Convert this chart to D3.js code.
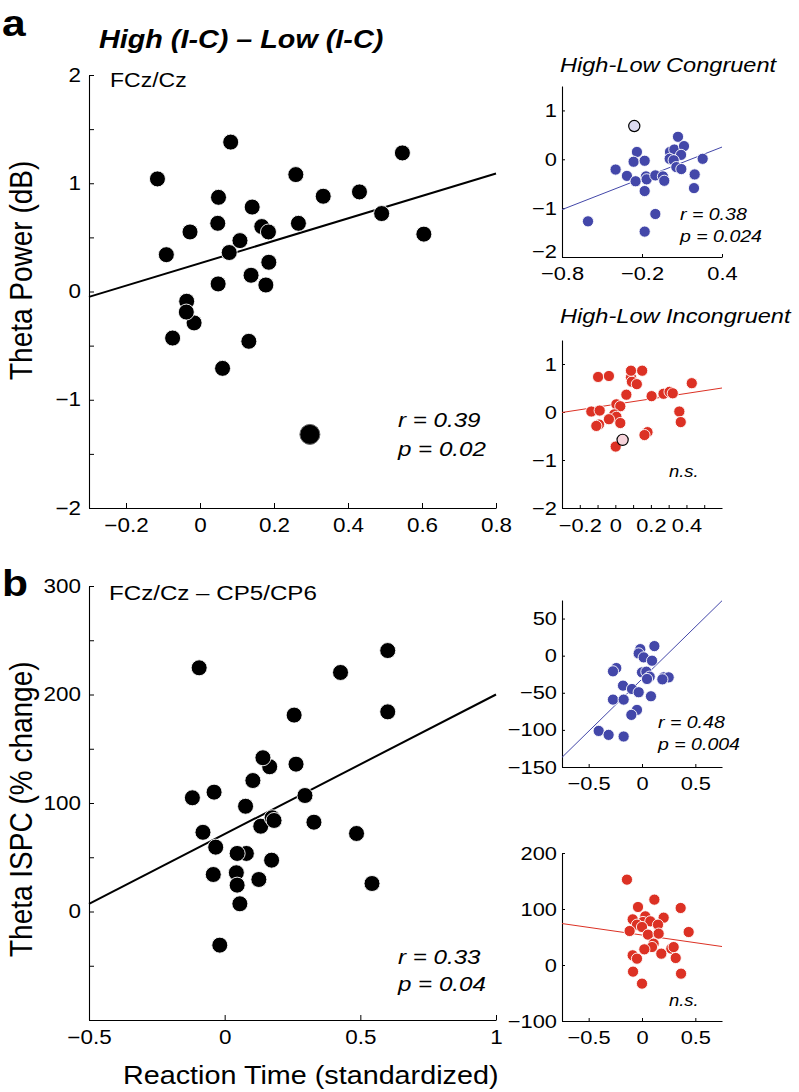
<!DOCTYPE html>
<html><head><meta charset="utf-8">
<script src="https://cdn.jsdelivr.net/npm/d3@7"></script>
<style>
html,body{margin:0;padding:0;background:#fff;}
svg text{font-family:"Liberation Sans",Arial,Helvetica,sans-serif;fill:#000;}
</style></head>
<body><svg id="chart" width="799" height="1092"></svg>
<script>
// ---------- data ----------
const powerPts = [[-0.115,1.04],[0.083,1.38],[0.547,1.28],[0.259,1.08],[0.333,0.88],[0.431,0.92],[0.491,0.72],[0.605,0.53],[0.050,0.87],[0.141,0.78],[0.048,0.63],[-0.027,0.55],[0.167,0.60],[0.185,0.55],[0.266,0.63],[0.108,0.47],[-0.091,0.34],[0.079,0.36],[0.186,0.27],[0.138,0.15],[0.049,0.07],[0.178,0.06],[-0.036,-0.09],[-0.016,-0.29],[-0.037,-0.19],[-0.074,-0.43],[0.132,-0.46],[0.061,-0.71]];
const powerOutlier = [[0.297,-1.32]];
const powerFit = [[-0.3,-0.05],[0.8,1.09]];

const ispcPts = [[-0.094,224.6],[0.427,220.3],[0.601,240.5],[0.601,184],[0.256,181],[0.166,133.4],[0.141,141.7],[0.263,135.8],[0.104,120.7],[0.296,106.9],[-0.039,110],[-0.119,104.8],[0.077,97],[-0.080,73],[0.133,78.6],[0.175,86.4],[0.182,83.9],[0.329,82.3],[0.486,71.9],[-0.033,59.3],[0.080,53.5],[0.046,53.5],[0.173,47.3],[-0.042,34.1],[0.043,35.7],[0.126,29.5],[0.046,24.3],[0.543,25.8],[0.056,7.1],[-0.018,-31]];
const ispcFit = [[-0.5,7],[1,200]];

const congPts = [[-0.238,0.15],[-0.263,-0.05],[-0.398,-0.21],[-0.313,-0.34],[-0.248,-0.45],[-0.18,-0.03],[-0.17,-0.35],[-0.165,-0.41],[-0.18,-0.65],[-0.1,-0.33],[-0.043,-0.35],[-0.033,-0.44],[-0.1,-1.12],[-0.18,-1.48],[-0.605,-1.27],[0.01,0.15],[0.0425,0.2],[0.07,0.46],[0.115,0.27],[0.093,0.09],[0.0075,0.01],[0.0375,-0.02],[0.0575,-0.16],[0.095,-0.2],[0.195,-0.31],[0.19,-0.59],[0.255,0.01]];
const congHighlight = [[-0.258,0.68]];
const congFit = [[-0.8,-1.03],[0.4,0.25]];

const incPts = [[-0.097,0.73],[-0.036,0.75],[0.088,0.72],[0.093,0.63],[0.121,0.58],[0.088,0.86],[0.151,0.86],[0.062,0.36],[0.43,0.6],[0.271,0.38],[0.305,0.42],[0.323,0.39],[0.204,0.33],[-0.135,0.01],[-0.088,0.03],[0.006,0.16],[0.028,0.12],[-0.006,-0.05],[0.006,-0.1],[-0.036,-0.15],[0.028,-0.23],[-0.092,-0.26],[-0.107,-0.29],[0.36,0.01],[0.368,-0.21],[0.181,-0.42],[0.164,-0.48],[0.002,-0.72]];
const incHighlight = [[0.041,-0.58]];
const incFit = [[-0.3,-0.01],[0.6,0.5]];

const ispcCongPts = [[-0.016,8.8],[-0.031,3],[0.016,-2.3],[0.116,12.9],[0.094,-6.8],[-0.241,-16.7],[-0.272,-21.1],[0,-22.5],[0.041,-21.6],[0.072,-28.3],[0.047,-31.4],[0.203,-29.2],[0.25,-29.2],[0.191,-31.9],[-0.178,-40.4],[-0.094,-44.9],[-0.031,-49.3],[0.084,-54.7],[-0.272,-59.2],[-0.172,-59.2],[-0.047,-73.1],[-0.1,-79.8],[-0.406,-101.4],[-0.313,-106.7],[-0.172,-108.9]];
const ispcCongFit = [[-0.75,-137],[0.75,74]];

const ispcIncPts = [[-0.141,152.4],[0.116,116.7],[-0.0375,103.6],[0.3625,101.8],[-0.0875,81.5],[0.203,84.5],[0.031,86.9],[0.009,76.8],[0.078,78],[0.15,72],[-0.047,72],[0,67.9],[-0.116,60.7],[0.4375,58.9],[0.056,54.2],[0.156,56],[0.109,38.1],[0.094,32.1],[0.022,28],[0.275,29.2],[0.297,32],[0.181,20.2],[-0.0875,17.3],[-0.047,11.3],[0.316,12.5],[-0.084,-11.9],[0.366,-15.5],[0,-33.3]];
const ispcIncFit = [[-0.75,74],[0.75,33]];

// tick values
const powerYTicks = [-2,-1.5,-1,-0.5,0,0.5,1,1.5,2];
const powerXTicks = [-0.2,0,0.2,0.4,0.6,0.8];
const ispcYTicks = [-100,-50,0,50,100,150,200,250,300];
const ispcYLabels = [0,100,200,300];
const ispcXTicks = [-0.5,0,0.5,1];
const congYTicks = [-2,-1,0,1];
const congXTicks = [-0.8,-0.2,0.4];
const incYTicks = [-2,-1,0,1];
const incXTicks = [-0.2,-0.1,0,0.1,0.2,0.3,0.4,0.5];
const incXLabels = [-0.2,0,0.2,0.4];
const smallBTopYTicks = [-150,-100,-50,0,50];
const smallBXTicks = [-0.5,0,0.5];
const smallBBotYTicks = [-100,0,100,200];

// ---------- drawing ----------
const SX = 1.15;
const BLUE = "#4347a9", RED = "#dc3124";
const svg = d3.select("#chart");
const minus = s => String(s).replace("-", "\u2212");

function txt(x, y, str, o = {}) {
  const g = svg.append("g").attr("transform",
    o.rotate ? `translate(${x},${y}) rotate(-90) scale(1,${SX})` : `translate(${x},${y}) scale(${SX},1)`);
  g.append("text").text(str)
    .attr("font-size", o.size || 18)
    .attr("font-weight", o.weight || "normal")
    .attr("font-style", o.style || "normal")
    .attr("text-anchor", o.anchor || "start");
}

function panel(cfg) {
  const x = d3.scaleLinear().domain(cfg.xd).range(cfg.xr);
  const y = d3.scaleLinear().domain(cfg.yd).range(cfg.yr);
  const g = svg.append("g");
  const fmtX = cfg.xfmt || (d => minus(d));
  const fmtY = cfg.yfmt || (d => minus(d));
  const ya = d3.axisLeft(y).tickValues(cfg.yt).tickSize(-cfg.tick).tickSizeOuter(0)
    .tickPadding(cfg.ypad).tickFormat(fmtY);
  const xa = d3.axisBottom(x).tickValues(cfg.xt).tickSize(-cfg.tick).tickSizeOuter(0)
    .tickPadding(cfg.xpad).tickFormat(fmtX);
  const gy = g.append("g").attr("transform", `translate(${cfg.xr[0]},0)`).call(ya);
  const gx = g.append("g").attr("transform", `translate(0,${cfg.yr[0]})`).call(xa);
  [gx, gy].forEach(a => {
    a.select(".domain").attr("stroke", "#000").attr("stroke-width", 1.1);
    a.selectAll(".tick line").attr("stroke", "#000");
    a.selectAll(".tick text").attr("font-size", cfg.fs).attr("fill", "#000")
      .attr("font-family", '"Liberation Sans",Arial,Helvetica,sans-serif');
  });
  gy.selectAll(".tick text").attr("transform", `scale(${SX},1)`).attr("x", -cfg.ypad / SX);
  if (cfg.lowLabelUp) {
    gy.selectAll(".tick text").filter(d => d === cfg.yd[0]).attr("dy", "0.04em");
  }
  gx.selectAll(".tick text").attr("transform", `scale(${SX},1)`);
  const line = d3.line().x(d => x(d[0])).y(d => y(d[1]));
  g.append("path").datum(cfg.fit).attr("d", line).attr("fill", "none")
    .attr("stroke", cfg.lineColor).attr("stroke-width", cfg.lw);
  g.selectAll("circle.pt").data(cfg.pts).enter().append("circle")
    .attr("cx", d => x(d[0])).attr("cy", d => y(d[1])).attr("r", cfg.r)
    .attr("fill", cfg.color).attr("stroke", "#fff").attr("stroke-width", 0.9);
  if (cfg.hl) {
    g.selectAll("circle.hl").data(cfg.hl).enter().append("circle")
      .attr("cx", d => x(d[0])).attr("cy", d => y(d[1])).attr("r", cfg.hlr || cfg.r)
      .attr("fill", cfg.hlColor).attr("stroke", cfg.hlStroke).attr("stroke-width", cfg.hlsw || 1.2);
  }
}

// Panel a main
panel({xd:[-0.3,0.8], xr:[89,496], yd:[-2,2], yr:[508,75], xt:powerXTicks, yt:powerYTicks,
  yfmt: d => Number.isInteger(d) ? minus(d) : "", tick:5, ypad:8, xpad:10, fs:19.5,
  pts:powerPts, r:8, color:"#000", fit:powerFit, lineColor:"#000", lw:2,
  hl:powerOutlier, hlr:10, hlColor:"#000", hlStroke:"#666", hlsw:1});

// Panel b main
panel({xd:[-0.5,1], xr:[89,496], yd:[-100,300], yr:[1020,586], xt:ispcXTicks, yt:ispcYTicks,
  yfmt: d => ispcYLabels.includes(d) ? minus(d) : "", tick:5, ypad:8, xpad:10, fs:19.5,
  pts:ispcPts, r:8, color:"#000", fit:ispcFit, lineColor:"#000", lw:2});

// Small congruent power
panel({xd:[-0.8,0.4], xr:[562,722], yd:[-2,1.5], yr:[257,86], xt:congXTicks, yt:congYTicks,
  tick:3, ypad:5, xpad:10, fs:19, lowLabelUp:true, pts:congPts, r:5.6, color:BLUE, fit:congFit, lineColor:BLUE, lw:1,
  hl:congHighlight, hlColor:"#dcdbf1", hlStroke:"#000"});

// Small incongruent power
panel({xd:[-0.3,0.6], xr:[562,722], yd:[-2,1.5], yr:[508,340], xt:incXTicks, yt:incYTicks,
  xfmt: d => incXLabels.includes(d) ? minus(d) : "",
  tick:3, ypad:5, xpad:11, fs:19, pts:incPts, r:5.6, color:RED, fit:incFit, lineColor:RED, lw:1,
  hl:incHighlight, hlColor:"#f6d3da", hlStroke:"#000"});

// Small congruent ISPC
panel({xd:[-0.75,0.75], xr:[562,722], yd:[-150,75], yr:[767,600], xt:smallBXTicks, yt:smallBTopYTicks,
  tick:3, ypad:5, xpad:10, fs:19, pts:ispcCongPts, r:5.6, color:BLUE, fit:ispcCongFit, lineColor:BLUE, lw:1});

// Small incongruent ISPC
panel({xd:[-0.75,0.75], xr:[562,722], yd:[-100,200], yr:[1021,853], xt:smallBXTicks, yt:smallBBotYTicks,
  tick:3, ypad:5, xpad:10, fs:19, pts:ispcIncPts, r:5.6, color:RED, fit:ispcIncFit, lineColor:RED, lw:1});

// ---------- texts ----------
txt(2, 36, "a", {size:37, weight:"bold"});
txt(2, 596, "b", {size:37, weight:"bold"});
txt(99, 48, "High (I-C) \u2013 Low (I-C)", {size:25, weight:"bold", style:"italic"});
txt(110, 87, "FCz/Cz", {size:20});
txt(109, 600, "FCz/Cz \u2013 CP5/CP6", {size:21});
txt(32, 380, "Theta Power (dB)", {size:28, rotate:true});
txt(32, 957, "Theta ISPC (% change)", {size:28, rotate:true});
txt(123, 1084, "Reaction Time (standardized)", {size:25});
txt(398, 427, "r = 0.39", {size:21, style:"italic"});
txt(398, 456, "p = 0.02", {size:21, style:"italic"});
txt(398, 964, "r = 0.33", {size:21, style:"italic"});
txt(398, 991, "p = 0.04", {size:21, style:"italic"});
txt(560, 72, "High-Low Congruent", {size:20.5, style:"italic"});
txt(560, 323, "High-Low Incongruent", {size:20.5, style:"italic"});
txt(680, 220, "r = 0.38", {size:17, style:"italic"});
txt(680, 242, "p = 0.024", {size:17, style:"italic"});
txt(669, 477, "n.s.", {size:16, style:"italic"});
txt(658, 728, "r = 0.48", {size:17, style:"italic"});
txt(658, 750, "p = 0.004", {size:17, style:"italic"});
txt(669, 1006, "n.s.", {size:16, style:"italic"});
</script></body></html>
